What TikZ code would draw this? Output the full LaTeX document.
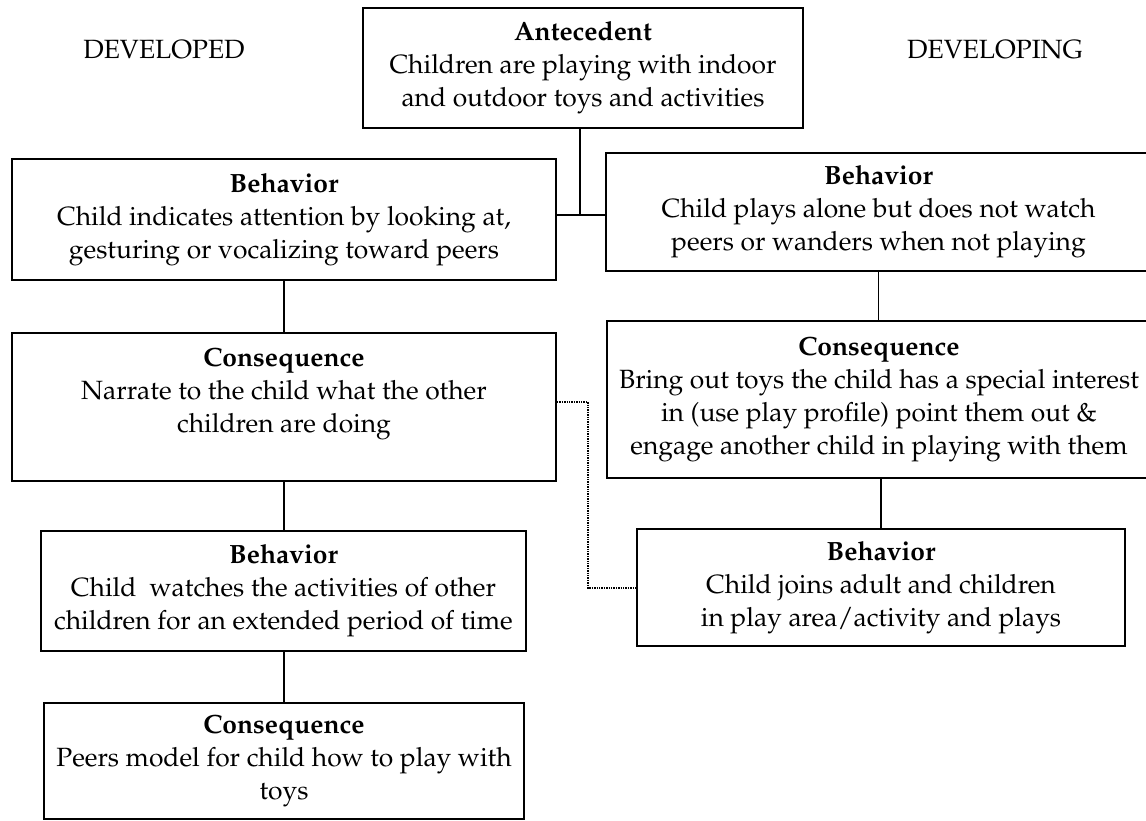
\documentclass[tikz,border=0pt]{standalone}
\usepackage[T1]{fontenc}
\usepackage{mathpazo}
\usepackage{tikz}
\usetikzlibrary{positioning}

\begin{document}
\begin{tikzpicture}[x=1pt,y=-1pt,font=\fontsize{26.4}{33}\selectfont,
  box/.style={draw,line width=2pt,align=center,anchor=north west,inner sep=0pt},
  link/.style={line width=1.4pt},
  dotlink/.style={line width=1.4pt,densely dotted}]
\useasboundingbox (0,0) rectangle (1146,821);
\clip (0,0) rectangle (1146,821);
% ---- headings and antecedent ----
\node (devd) at (164,50) {DEVELOPED};
\node (devg) at (995,50) {DEVELOPING};
\node[box,minimum width=440pt,minimum height=120pt] (ant) at (362,7)
  {\textbf{Antecedent}\\Children are playing with indoor\\and outdoor toys and activities};
% ---- developed side ----
\node[box,minimum width=544pt,minimum height=121pt] (lb1) at (11,158)
  {\textbf{Behavior}\\Child indicates attention by looking at,\\gesturing or vocalizing toward peers};
\node[box,minimum width=544pt,minimum height=148pt] (lc1) at (11,332)
  {\textbf{Consequence}\\Narrate to the child what the other\\children are doing\\\mbox{}};
\node[box,minimum width=485pt,minimum height=120pt] (lb2) at (40,530)
  {\textbf{Behavior}\\Child\ \ watches the activities of other\\children for an extended period of time};
\node[box,minimum width=480pt,minimum height=116pt] (lc2) at (43,702)
  {\textbf{Consequence}\\Peers model for child how to play with\\toys};
% ---- developing side ----
\node[box,minimum width=545pt,minimum height=118pt] (rb1) at (605,152)
  {\textbf{Behavior}\\Child plays alone but does not watch\\peers or wanders when not playing};
\node[box,minimum width=544pt,minimum height=157pt] (rc1) at (606,320)
  {\textbf{Consequence}\\Bring out toys the child has a special interest\\in (use play profile) point them out \&\\engage another child in playing with them};
\node[box,minimum width=488pt,minimum height=117pt] (rb2) at (636,528)
  {\textbf{Behavior}\\Child joins adult and children\\in play area/activity and plays};
% ---- connectors ----
\coordinate (jn) at (580,215);
\coordinate (dA) at (588,402);
\coordinate (dB) at (588,588);
\draw[link] (ant.south -| jn) -- (jn);
\draw[link] (lb1.east |- jn) -- (rb1.west |- jn);
\draw[link] (lb1.south) -- (lc1.north);
\draw[link] (lc1.south) -- (lc1.south |- lb2.north);
\draw[link] (lb2.south -| lc2.north) -- (lc2.north);
\draw[link] (rb1.south) -- (rb1.south |- rc1.north);
\draw[link] (rb2.north |- rc1.south) -- (rb2.north);
\draw[dotlink] (lc1.east |- dA) -- (dA) -- (dB) -- (rb2.west |- dB);
\end{tikzpicture}
\end{document}
